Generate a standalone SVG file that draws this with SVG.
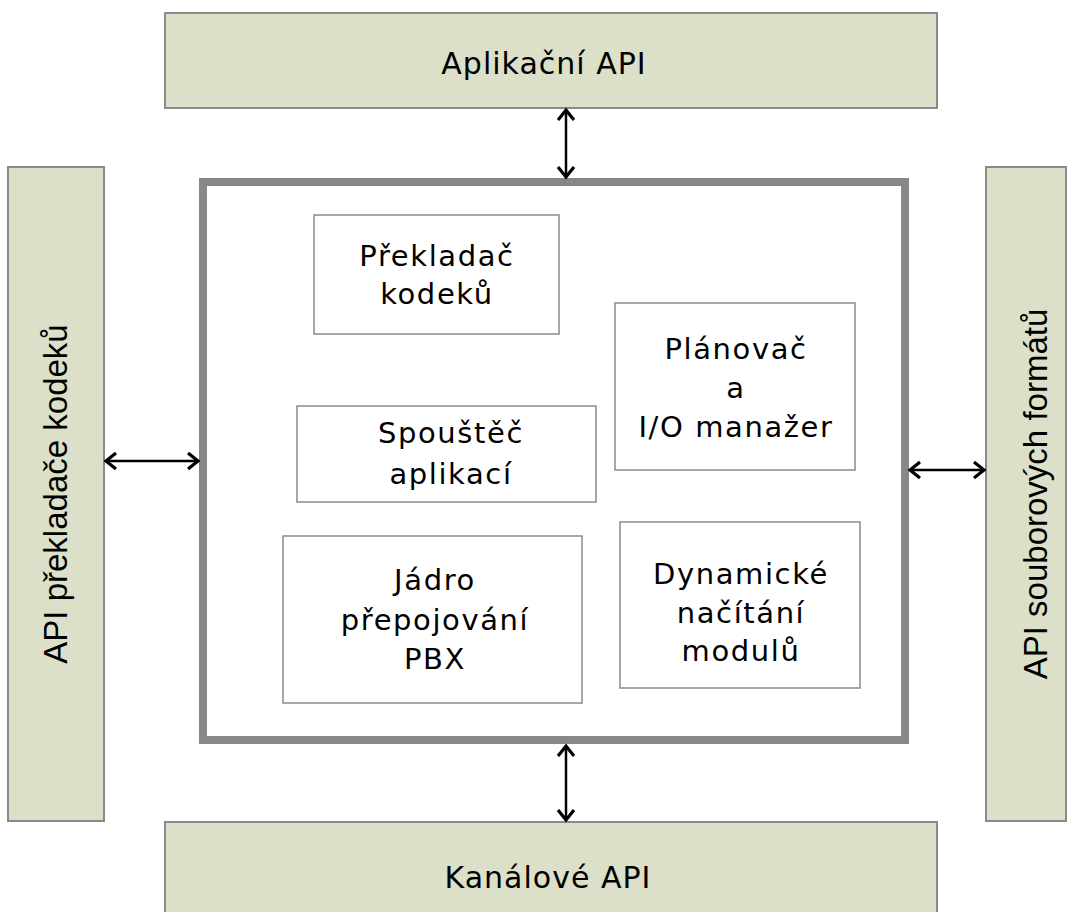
<svg xmlns="http://www.w3.org/2000/svg" width="1074" height="912" viewBox="0 0 1074 912">
<style>
.api{fill:#dce0c9;stroke:#8a8a8a;stroke-width:2}
.mod{fill:#fff;stroke:#8a8a8a;stroke-width:1.5}
.core{fill:#fff;stroke:#888;stroke-width:8}
.t{font-family:"DejaVu Sans",sans-serif;fill:#000;text-anchor:middle}
.big{font-size:30px;letter-spacing:1px}
.side{font-family:"Liberation Sans",Arial,sans-serif;font-size:33px}
.in{font-size:29px;letter-spacing:1.6px}
.conn{stroke:#000;stroke-width:2.5;fill:none;marker-start:url(#ah);marker-end:url(#ah)}
</style>
<defs>
<marker id="ah" markerUnits="userSpaceOnUse" markerWidth="16" markerHeight="20" refX="12" refY="9" orient="auto-start-reverse">
<path d="M2,1 L12,9 L2,17" fill="none" stroke="#000" stroke-width="3.2"/>
</marker>
</defs>
<rect width="1074" height="912" fill="#fff"/>
<g id="aplikacni-api"><rect class="api" x="165" y="13" width="772" height="95"/><text class="t big" x="544" y="74">Aplikační API</text></g>
<g id="kanalove-api"><rect class="api" x="165" y="822" width="772" height="100"/><text class="t big" x="548" y="888">Kanálové API</text></g>
<g id="api-prekladace"><rect class="api" x="8" y="167" width="96" height="654"/><text class="t side" transform="translate(67,494) rotate(-90)">API překladače kodeků</text></g>
<g id="api-formatu"><rect class="api" x="986" y="167" width="80" height="654"/><text class="t side" transform="translate(1047,494) rotate(-90)">API souborových formátů</text></g>
<g id="jadro-system"><rect class="core" x="203" y="182" width="702" height="558"/></g>
<g id="prekladac"><rect class="mod" x="314" y="215" width="245" height="119"/><text class="t in" x="437" y="266">Překladač</text><text class="t in" x="437" y="304">kodeků</text></g>
<g id="planovac"><rect class="mod" x="615" y="303" width="240" height="167"/><text class="t in" x="736" y="359">Plánovač</text><text class="t in" x="736" y="398">a</text><text class="t in" x="736" y="437">I/O manažer</text></g>
<g id="spoustec"><rect class="mod" x="297" y="406" width="299" height="96"/><text class="t in" x="451" y="443">Spouštěč</text><text class="t in" x="451" y="484">aplikací</text></g>
<g id="jadro-pbx"><rect class="mod" x="283" y="536" width="299" height="167"/><text class="t in" x="435" y="590">Jádro</text><text class="t in" x="435" y="630">přepojování</text><text class="t in" x="435" y="669">PBX</text></g>
<g id="dynamicke"><rect class="mod" x="620" y="522" width="240" height="166"/><text class="t in" x="741" y="584">Dynamické</text><text class="t in" x="741" y="623">načítání</text><text class="t in" x="741" y="661">modulů</text></g>
<g id="connectors">
<line class="conn" x1="566" y1="110" x2="566" y2="177"/>
<line class="conn" x1="566" y1="746" x2="566" y2="820"/>
<line class="conn" x1="106" y1="461" x2="198" y2="461"/>
<line class="conn" x1="910" y1="470" x2="984" y2="470"/>
</g>
</svg>
